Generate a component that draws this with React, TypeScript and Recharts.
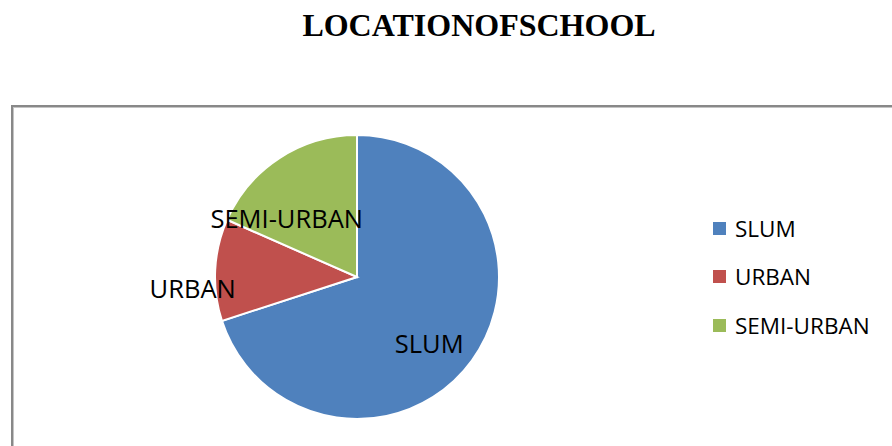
import React from "react";
import { PieChart, Pie, Cell, Legend } from "recharts";

const categories = ["SLUM", "URBAN", "SEMI-URBAN"];
const values = [70, 11.6, 18.4];
const colors = ["#4F81BD", "#C0504D", "#9BBB59"];

// label placement styling (radius factor, angle shift in degrees)
const labelRadius = [0.69, 1.16, 0.645];
const labelShift = [-6.5, 6.8, 17];

const data = categories.map((name, i) => ({ name, value: values[i] }));

const RAD = Math.PI / 180;

const renderLabel = (props: any) => {
  const { cx, cy, midAngle, outerRadius, index, name } = props;
  const a = (midAngle + labelShift[index]) * RAD;
  const r = outerRadius * labelRadius[index];
  const x = cx + r * Math.cos(-a);
  const y = cy + r * Math.sin(-a);
  return (
    <text
      x={x}
      y={y}
      textAnchor="middle"
      dominantBaseline="central"
      fill="#000"
      fontFamily="'Open Sans', sans-serif"
      fontSize={25.5}
    >
      {name}
    </text>
  );
};

const renderLegend = (props: any) => {
  const payload = [...(props.payload || [])].sort(
    (a: any, b: any) => categories.indexOf(a.value) - categories.indexOf(b.value)
  );
  return (
    <div style={{ fontFamily: "'Open Sans', sans-serif", fontSize: 22.5, color: "#000" }}>
      {payload.map((entry: any, i: number) => (
        <div
          key={i}
          style={{ display: "flex", alignItems: "center", height: 48.5, whiteSpace: "nowrap" }}
        >
          <span
            style={{
              display: "inline-block",
              width: 13,
              height: 13,
              background: entry.color,
              marginRight: 9,
            }}
          />
          <span>{entry.value}</span>
        </div>
      ))}
    </div>
  );
};

export default function App() {
  return (
    <div style={{ position: "absolute", left: 0, top: 0, width: 892, height: 446, overflow: "hidden", background: "#fff" }}>
      <div
        style={{
          position: "absolute",
          left: 0,
          top: 0,
          width: 958,
          textAlign: "center",
          fontFamily: "'Liberation Serif', 'Times New Roman', serif",
          fontWeight: "bold",
          fontSize: 32,
          lineHeight: "50px",
          color: "#000",
        }}
      >
        LOCATIONOFSCHOOL
      </div>
      <div
        style={{
          position: "absolute",
          left: 11,
          top: 105,
          width: 920,
          height: 400,
          border: "2px solid #888",
          boxShadow: "inset 1px 1px 0 #c4c4c4",
        }}
      />
      <div style={{ position: "absolute", left: 0, top: 0 }}>
        <PieChart width={892} height={446} margin={{ top: 0, right: 0, bottom: 0, left: 0 }}>
          <Pie
            data={data}
            dataKey="value"
            nameKey="name"
            cx={357}
            cy={277}
            outerRadius={142}
            startAngle={90}
            endAngle={-270}
            stroke="#fff"
            strokeWidth={2}
            label={renderLabel}
            labelLine={false}
            isAnimationActive={false}
          >
            {data.map((d, i) => (
              <Cell key={d.name} fill={colors[i]} />
            ))}
          </Pie>
          <Legend
            layout="vertical"
            content={renderLegend}
            wrapperStyle={{ position: "absolute", left: 713, top: 204, width: 180 }}
          />
        </PieChart>
      </div>
    </div>
  );
}
